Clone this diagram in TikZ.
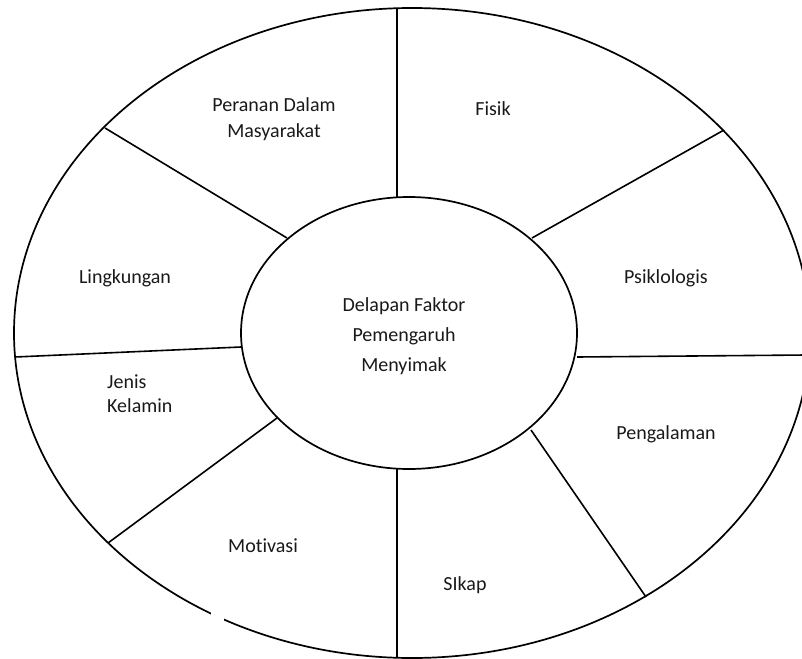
\documentclass[tikz,border=0pt]{standalone}
\usepackage{fontspec}
\setmainfont{Carlito}[Ligatures=NoCommon]
\usetikzlibrary{shapes.geometric}
\begin{document}
\begin{tikzpicture}[x=1pt,y=-1pt,
  ring/.style={draw=black,line width=1.7pt,ellipse,outer sep=0pt,inner sep=0pt},
  spoke/.style={draw=black,line width=1.6pt},
  lbl/.style={font=\fontsize{20}{26}\selectfont,align=center,inner sep=0pt,text=black!90}]
\useasboundingbox (0,0) rectangle (802,658);
\node[ring,minimum width=796pt,minimum height=650pt] (outer) at (412,333) {};
\node[ring,minimum width=336pt,minimum height=272pt] (inner) at (409,333) {};
% spoke end points (inner ring / outer ring)
\coordinate (i1) at (397,197); \coordinate (o1) at (397,8);
\coordinate (i2) at (532,238); \coordinate (o2) at (724,130);
\coordinate (i3) at (577,357); \coordinate (o3) at (806,355);
\coordinate (i4) at (531,430); \coordinate (o4) at (646,597);
\coordinate (i5) at (397,468); \coordinate (o5) at (397,658);
\coordinate (i6) at (277,418); \coordinate (o6) at (108,543);
\coordinate (i7) at (241,347); \coordinate (o7) at (15,357);
\coordinate (i8) at (287,238); \coordinate (o8) at (105,128);
\foreach \k in {1,...,8}{\draw[spoke] (i\k) -- (o\k);}
% small gap in the outer ring
\fill[white] (211,606) rectangle (224,626);
% labels
\node[lbl,font=\fontsize{20}{30}\selectfont] (center) at (404,336) {Delapan Faktor\\Pemengaruh\\Menyimak};
\node[lbl] (peranan) at (274,119) {Peranan Dalam\\Masyarakat};
\node[lbl] (fisik) at (493,109) {Fisik};
\node[lbl] (psiko) at (666,278) {Psiklologis};
\node[lbl] (penga) at (666,434) {Pengalaman};
\node[lbl] (sikap) at (465,585) {SIkap};
\node[lbl] (motiv) at (263,546) {Motivasi};
\node[lbl,align=left,font=\fontsize{20}{24}\selectfont,anchor=west] (jenis) at (107,394) {Jenis\\Kelamin};
\node[lbl] (lingk) at (125,278) {Lingkungan};
\end{tikzpicture}
\end{document}
